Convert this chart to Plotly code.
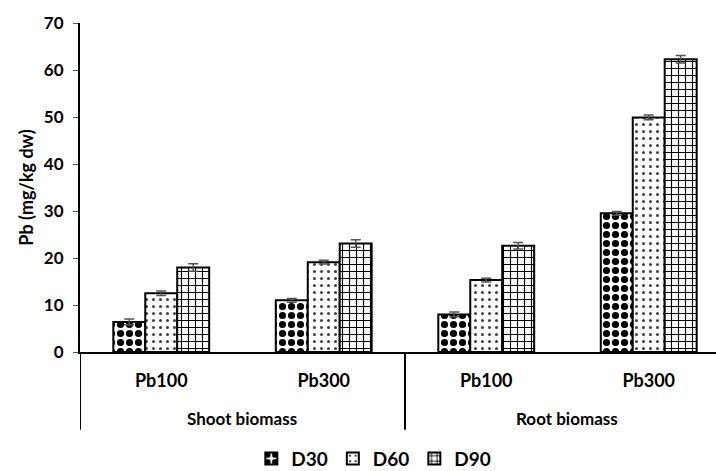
import plotly.graph_objects as go

groups = ["Shoot biomass", "Root biomass"]
treatments = ["Pb100", "Pb300", "Pb100", "Pb300"]
series = ["D30", "D60", "D90"]
d30 = [6.4, 11.0, 8.0, 29.5]
d60 = [12.5, 19.1, 15.3, 49.9]
d90 = [18.0, 23.1, 22.6, 62.3]
d30_err = [0.6, 0.4, 0.5, 0.4]
d60_err = [0.5, 0.4, 0.4, 0.5]
d90_err = [0.8, 0.8, 0.7, 0.8]

values = [d30, d60, d90]
errors = [d30_err, d60_err, d90_err]
patterns = [
    dict(shape=".", fgcolor="black", bgcolor="white", size=9, solidity=0.5, fillmode="overlay", fgopacity=1),
    dict(shape=".", fgcolor="#444444", bgcolor="white", size=7, solidity=0.15, fillmode="overlay", fgopacity=1),
    dict(shape="+", fgcolor="black", bgcolor="white", size=7, solidity=0.3, fillmode="overlay", fgopacity=1),
]

font = "Lato"
xpos = list(range(len(treatments)))
fig = go.Figure()
for name, v, e, p in zip(series, values, errors, patterns):
    fig.add_trace(go.Bar(
        name=name, x=xpos, y=v,
        marker=dict(color="white", line=dict(color="black", width=2), pattern=p),
        error_y=dict(type="data", array=e, color="#555555", thickness=1.5, width=5),
    ))

# group labels and dividers for the two-level category axis
per_group = len(treatments) // len(groups)
for gi, g in enumerate(groups):
    fig.add_annotation(x=gi * per_group + (per_group - 1) / 2, y=-0.203, xref="x", yref="paper",
                       text=g, showarrow=False, yanchor="middle",
                       font=dict(family=font, size=17, color="black", weight="bold"))
    fig.add_shape(type="line", xref="x", yref="paper", x0=gi * per_group - 0.5, x1=gi * per_group - 0.5,
                  y0=0, y1=-0.236, line=dict(color="black", width=2))

fig.update_layout(
    width=716, height=471,
    margin=dict(l=80, r=0, t=23, b=119, autoexpand=False),
    plot_bgcolor="white", paper_bgcolor="white",
    barmode="group", bargap=0.41, bargroupgap=0,
    font=dict(family=font, size=15, color="black"),
    showlegend=True,
    legend=dict(orientation="h", x=0.462, xanchor="center", y=-0.324, yanchor="middle",
                font=dict(family=font, size=19, color="black", weight="bold")),
    yaxis=dict(range=[0, 70], dtick=10, showgrid=False, zeroline=False, automargin=False,
               showline=True, linecolor="black", linewidth=2,
               ticks="outside", ticklen=5, tickcolor="#555555", tickwidth=1, ticklabelstandoff=6,
               tickfont=dict(family=font, size=17, color="black", weight="bold"),
               title=dict(text="Pb (mg/kg dw)", font=dict(family=font, size=18, weight="bold"), standoff=6)),
    xaxis=dict(range=[-0.5, 3.414], tickvals=xpos, ticktext=treatments, automargin=False,
               showline=True, linecolor="black", linewidth=2, zeroline=False,
               showgrid=False, ticks="", ticklabelstandoff=11,
               tickfont=dict(family=font, size=18, color="black", weight="bold")),
)

fig.write_html("out.html")
